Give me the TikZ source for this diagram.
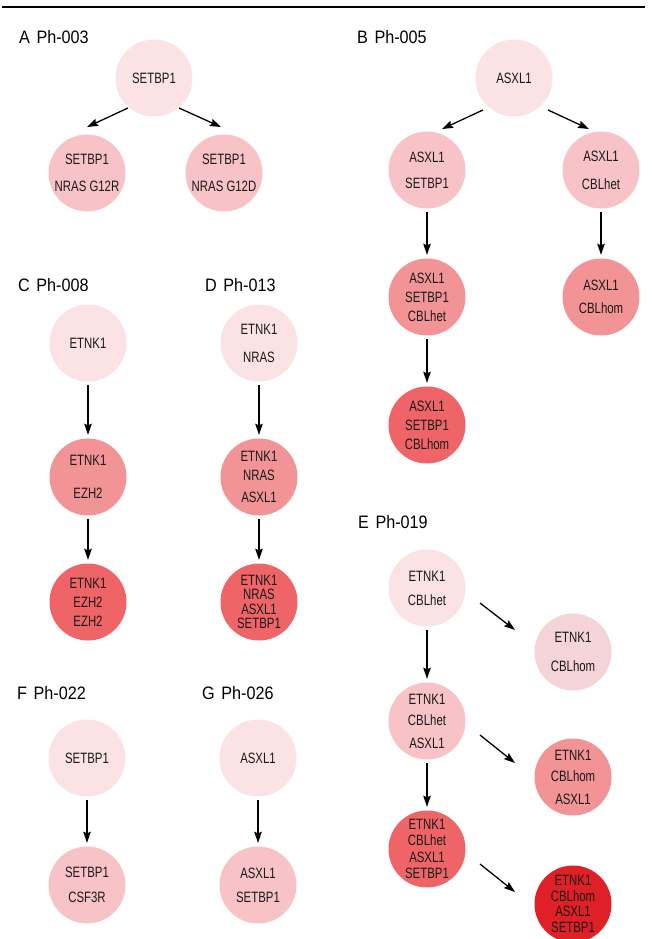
\documentclass[tikz,border=0pt]{standalone}
\usepackage{fontspec}
\setmainfont{Liberation Sans}
\newfontfamily\nf[FakeStretch=0.76]{Liberation Sans}
\newfontfamily\lf[FakeStretch=0.9]{Liberation Sans}
\usetikzlibrary{calc,arrows.meta}
\definecolor{cA}{HTML}{FBE2E4}
\definecolor{cB}{HTML}{F7C3C7}
\definecolor{cBb}{HTML}{F4D4D6}
\definecolor{cC}{HTML}{F29396}
\definecolor{cD}{HTML}{EF6567}
\definecolor{cE}{HTML}{DF2127}
\definecolor{txt}{HTML}{1A1A1A}
\begin{document}
\begin{tikzpicture}[x=1pt,y=-1pt,
  mut/.style={circle,minimum size=77pt,inner sep=0pt,align=center,text=txt},
  ls/.style={font=\nf\fontsize{15pt}{#1pt}\selectfont},
  arr/.style={-{Stealth[length=11pt,width=7.5pt,inset=1.5pt]},line width=1.3pt,black},
  vv/.style={arr,shorten <=3.5pt,shorten >=3.5pt},
  lab/.style={anchor=west,inner sep=0pt,text=black,font=\lf\fontsize{18pt}{20pt}\selectfont}]
\useasboundingbox (0,0) rectangle (652,939);
\draw[line width=2.3pt] (2,7.2) -- (645,7.2);

% A
\node[lab] (la) at (19,37) {A\hspace{2pt} Ph-003};
\node[mut,fill=cA,ls=16] (a1) at (154,78) {SETBP1};
\node[mut,fill=cB,ls=27] (a2) at (87,173) {SETBP1\\NRAS G12R};
\node[mut,fill=cB,ls=27] (a3) at (224,173) {SETBP1\\NRAS G12D};
\draw[arr] ($(a1)+(-26pt,-30pt)$) -- ($(a2)+(0pt,46pt)$);
\draw[arr] ($(a1)+(25pt,-30pt)$) -- ($(a3)+(-3pt,46pt)$);

% B
\node[lab] (lb) at (357,37) {B\hspace{2pt} Ph-005};
\node[mut,fill=cA,ls=16] (b1) at (514,78) {ASXL1};
\node[mut,fill=cB,ls=26] (b2) at (427,170) {ASXL1\\SETBP1};
\node[mut,fill=cB,ls=28] (b3) at (601,170) {ASXL1\\CBLhet};
\node[mut,fill=cC,ls=19] (b4) at (427,297) {ASXL1\\SETBP1\\CBLhet};
\node[mut,fill=cC,ls=23] (b5) at (601,297) {ASXL1\\CBLhom};
\node[mut,fill=cD,ls=19] (b6) at (427,425) {ASXL1\\SETBP1\\CBLhom};
\draw[arr] ($(b1)+(-31pt,-32pt)$) -- ($(b2)+(15pt,41pt)$);
\draw[arr] ($(b1)+(34pt,-32pt)$) -- ($(b3)+(-12pt,41pt)$);
\draw[vv] (b2) -- (b4);
\draw[vv] (b3) -- (b5);
\draw[vv] (b4) -- (b6);

% C
\node[lab] (lc) at (18,285) {C\hspace{2pt} Ph-008};
\node[mut,fill=cA,ls=16] (c1) at (88,343) {ETNK1};
\node[mut,fill=cC,ls=33] (c2) at (88,477) {ETNK1\\EZH2};
\node[mut,fill=cD,ls=19] (c3) at (88,602) {ETNK1\\EZH2\\EZH2};
\draw[vv] (c1) -- (c2);
\draw[vv] (c2) -- (c3);

% D
\node[lab] (ld) at (205,285) {D\hspace{2pt} Ph-013};
\node[mut,fill=cA,ls=28] (d1) at (259,343) {ETNK1\\NRAS};
\node[mut,fill=cC,ls=19] (d2) at (259,477) {ETNK1\\NRAS\\[3pt]ASXL1};
\node[mut,fill=cD,ls=14.5] (d3) at (259,602) {ETNK1\\NRAS\\ASXL1\\SETBP1};
\draw[vv] (d1) -- (d2);
\draw[vv] (d2) -- (d3);

% E
\node[lab] (le) at (358,522) {E\hspace{2pt} Ph-019};
\node[mut,fill=cA,ls=24] (e1) at (427,588) {ETNK1\\CBLhet};
\node[mut,fill=cB,ls=21] (e2) at (427,721) {ETNK1\\CBLhet\\[2pt]ASXL1};
\node[mut,fill=cD,ls=16.5] (e3) at (427,849) {ETNK1\\CBLhet\\ASXL1\\SETBP1};
\node[mut,fill=cBb,ls=29] (r1) at (573,652) {ETNK1\\CBLhom};
\node[mut,fill=cC,ls=21] (r2) at (573,777) {ETNK1\\CBLhom\\[2pt]ASXL1};
\node[mut,fill=cE,ls=15.5] (r3) at (573,904) {ETNK1\\CBLhom\\ASXL1\\SETBP1};
\draw[vv] (e1) -- (e2);
\draw[vv] (e2) -- (e3);
\draw[arr] ($(e1)+(53pt,-15pt)$) -- ($(r1)+(-58pt,22pt)$);
\draw[arr] ($(e2)+(53pt,-14pt)$) -- ($(r2)+(-58pt,14pt)$);
\draw[arr] ($(e3)+(53pt,-15pt)$) -- ($(r3)+(-58pt,12pt)$);

% F
\node[lab] (lf) at (17,693) {F\hspace{2pt} Ph-022};
\node[mut,fill=cA,ls=16] (f1) at (87,758) {SETBP1};
\node[mut,fill=cB,ls=25] (f2) at (87,885) {SETBP1\\CSF3R};
\draw[vv] (f1) -- (f2);

% G
\node[lab] (lg) at (202,693) {G\hspace{2pt} Ph-026};
\node[mut,fill=cA,ls=16] (g1) at (258,758) {ASXL1};
\node[mut,fill=cB,ls=24] (g2) at (258,885) {ASXL1\\SETBP1};
\draw[vv] (g1) -- (g2);
\end{tikzpicture}
\end{document}
